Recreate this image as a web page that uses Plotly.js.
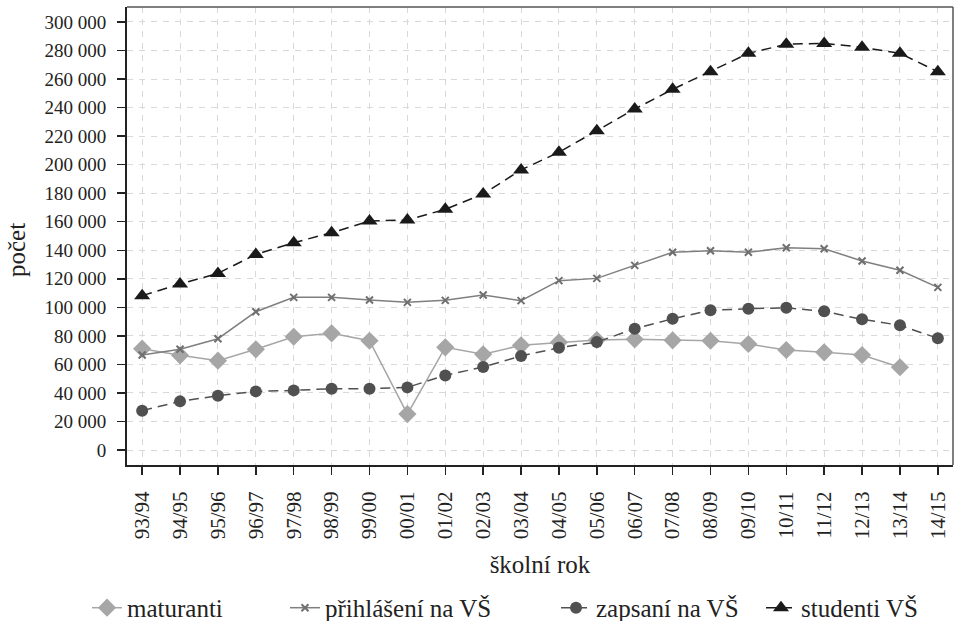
<!DOCTYPE html>
<html>
<head>
<meta charset="utf-8">
<script src="https://cdn.plot.ly/plotly-3.0.1.min.js"></script>
<style>html,body{margin:0;padding:0;background:#fff}#chart{width:955px;height:621px}</style>
</head>
<body>
<div id="chart"></div>
<script>
const years = ["93/94","94/95","95/96","96/97","97/98","98/99","99/00","00/01","01/02","02/03","03/04","04/05","05/06","06/07","07/08","08/09","09/10","10/11","11/12","12/13","13/14","14/15"];
const maturanti = [71000,66400,62600,70600,79400,81800,76600,25200,72000,67100,73400,75500,77100,77600,76900,76600,74300,70100,68500,66600,58000,null];
const prihlaseni = [66600,70600,78000,96900,107000,107000,105100,103500,104900,108600,104700,118700,120300,129400,138600,139700,138600,141800,141100,132500,126000,114000];
const zapsani = [27600,34100,38100,41100,41800,43000,43000,43900,52300,58200,65900,71700,75700,85000,92000,97900,99000,99700,97200,91600,87400,78300];
const studenti = [108200,116300,123800,137100,145300,152300,160500,161200,168700,179400,196300,208700,223800,239000,252800,265200,278000,284400,285000,282300,278000,265200];
const seriesNames = ["maturanti","přihlášení na VŠ","zapsaní na VŠ","studenti VŠ"];

const FONT = "Liberation Serif, DejaVu Serif, serif";
const TXT = "#222";
const traces = [
  {x: years, y: maturanti, name: seriesNames[0], mode: "lines+markers", legend: "legend",
   line: {color: "#a6a6a6", width: 1.5}, marker: {symbol: "diamond", size: 14, color: "#a6a6a6"}},
  {x: years, y: prihlaseni, name: seriesNames[1], mode: "lines+markers", legend: "legend2",
   line: {color: "#7f7f7f", width: 1.5}, marker: {symbol: "x-thin", size: 7, color: "#6f6f6f", line: {width: 2, color: "#6f6f6f"}}},
  {x: years, y: zapsani, name: seriesNames[2], mode: "lines+markers", legend: "legend3",
   line: {color: "#505050", width: 1.5, dash: "10px,6px"}, marker: {symbol: "circle", size: 12, color: "#505050"}},
  {x: years, y: studenti, name: seriesNames[3], mode: "lines+markers", legend: "legend4",
   line: {color: "#1a1a1a", width: 1.5, dash: "10px,6px"}, marker: {symbol: "triangle-up", size: 14, color: "#1a1a1a"}}
];

function leg(textStart) {
  return {orientation: "h", x: (textStart - 40) / 955, xanchor: "left", xref: "container",
          y: 0.021, yref: "container", yanchor: "middle",
          font: {family: FONT, size: 25, color: TXT}, bgcolor: "rgba(0,0,0,0)"};
}

const layout = {
  width: 955, height: 621,
  margin: {l: 127, r: 2, t: 7, b: 156},
  paper_bgcolor: "#fff", plot_bgcolor: "#fff",
  separators: ", ",
  font: {family: FONT, size: 19, color: TXT},
  showlegend: true,
  legend: leg(127), legend2: leg(325), legend3: leg(596), legend4: leg(801),
  xaxis: {
    type: "category", range: [-0.4, 21.4],
    tickangle: -90, ticks: "outside", ticklen: 8, tickcolor: TXT, tickwidth: 1.5,
    ticklabelstandoff: 8,
    showline: true, linecolor: TXT, linewidth: 2, mirror: false,
    showgrid: true, gridcolor: "#d9d9d9", griddash: "6px,6px", gridwidth: 1,
    tickfont: {family: FONT, size: 21, color: TXT},
    title: {text: "školní rok", font: {family: FONT, size: 25, color: TXT}, standoff: 17}
  },
  yaxis: {
    range: [-10500, 310500], dtick: 20000, tick0: 0, tickformat: ",d",
    ticks: "outside", ticklen: 8, tickcolor: TXT, tickwidth: 1.5,
    ticklabelstandoff: 7,
    showline: true, linecolor: TXT, linewidth: 2,
    showgrid: true, gridcolor: "#d9d9d9", griddash: "6px,6px", gridwidth: 1,
    zeroline: false,
    tickfont: {family: FONT, size: 19, color: TXT}
  },
  annotations: [
    {text: "počet", xref: "paper", yref: "paper", x: -0.134, y: 0.47, xanchor: "center", yanchor: "middle",
     textangle: -90, showarrow: false, font: {family: FONT, size: 25, color: TXT}}
  ],
  shapes: [
    {type: "line", xref: "paper", yref: "paper", x0: 0, x1: 1, y0: 1, y1: 1, line: {color: "#555", width: 1.5}},
    {type: "line", xref: "paper", yref: "paper", x0: 1, x1: 1, y0: 0, y1: 1, line: {color: "#555", width: 1.5}}
  ]
};

Plotly.newPlot("chart", traces, layout, {displayModeBar: false, staticPlot: true});
</script>
</body>
</html>
